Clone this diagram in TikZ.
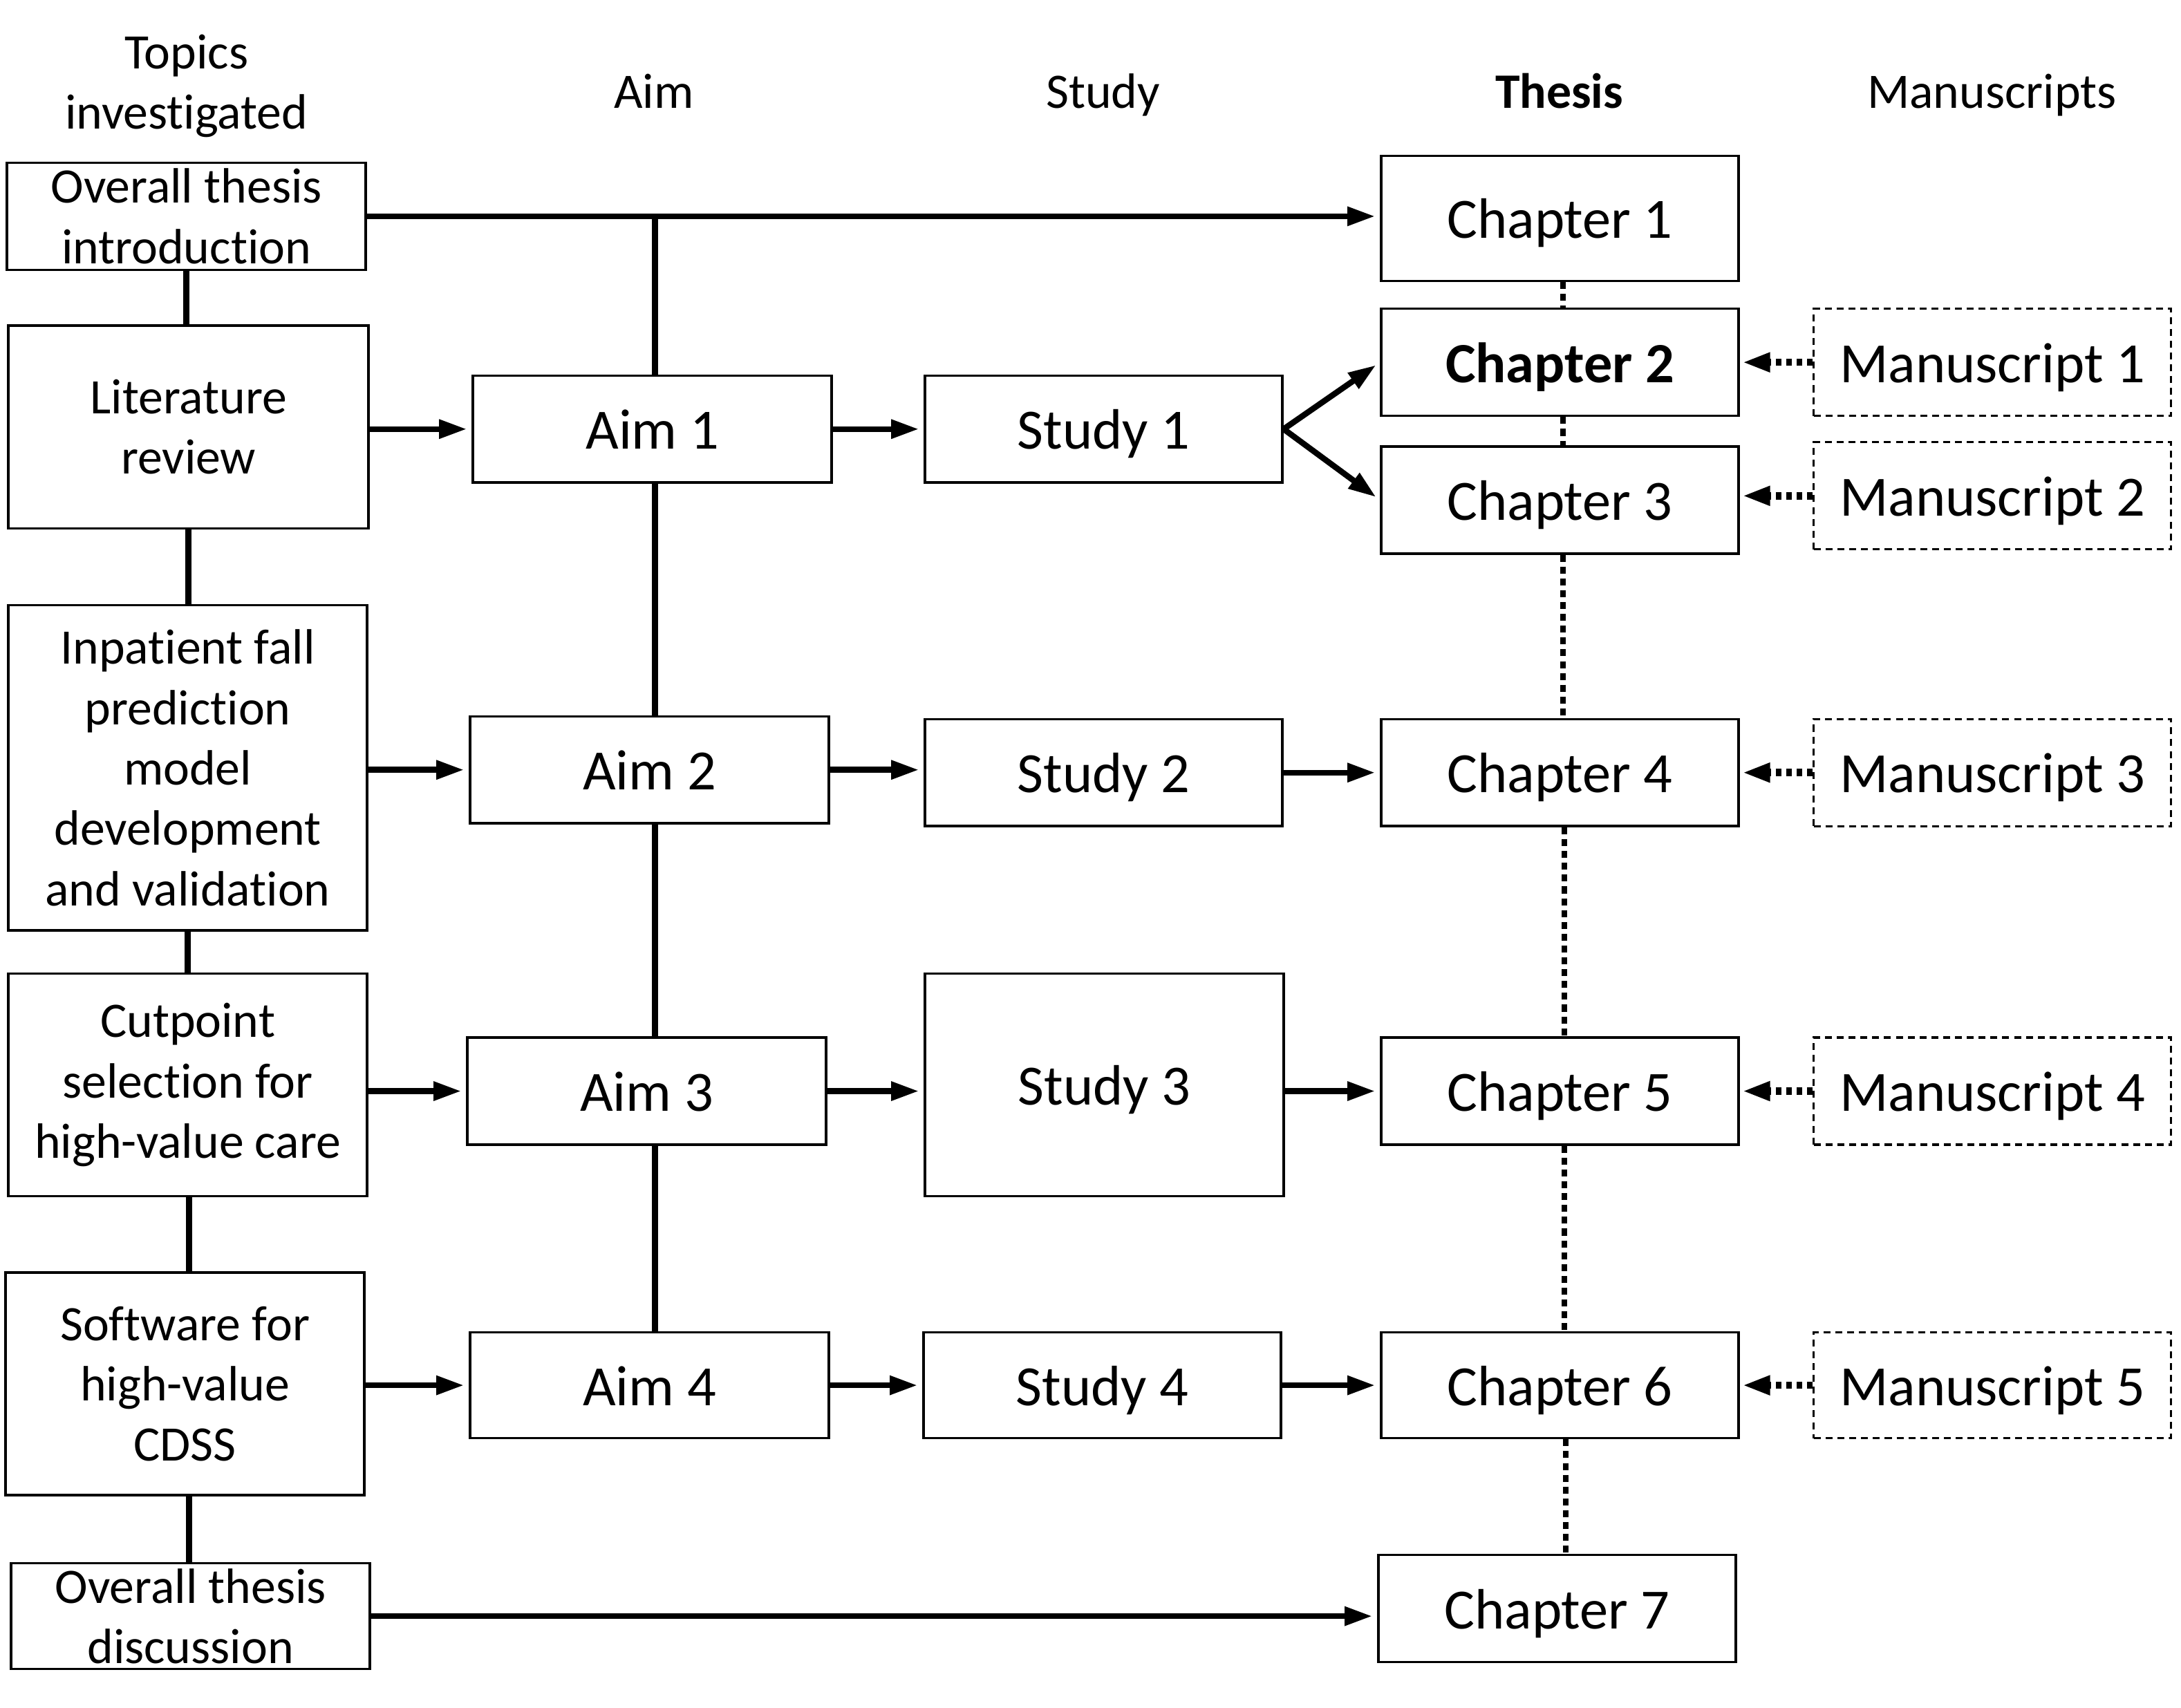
\documentclass[tikz,border=0pt]{standalone}
\usepackage{fontspec}
\setmainfont{Carlito}[Ligatures=NoCommon]
\usetikzlibrary{arrows.meta,calc}
\begin{document}
\begin{tikzpicture}[x=0.02cm,y=-0.02cm,
  box/.style={draw, line width=1pt, inner sep=0pt, align=center, minimum width=5.16cm, minimum height=1.54cm, font=\fontsize{23.3}{28}\selectfont, text height=16.4pt, text depth=0pt},
  topic/.style={draw, line width=1pt, inner sep=0pt, align=center, minimum width=5.16cm, minimum height=1.54cm, font=\fontsize{20.3}{24.7}\selectfont},
  msbox/.style={box, dash pattern=on 0.1cm off 0.07cm, line width=0.9pt},
  hdr/.style={inner sep=0pt, align=center, font=\fontsize{20.3}{24.7}\selectfont},
  hdr1/.style={hdr, text height=13.5pt, text depth=0pt},
  arr/.style={line width=2.4pt, -{Triangle[length=0.4cm,width=0.26cm]}, shorten >=2pt},
  link/.style={line width=2.4pt},
  chain/.style={line width=2.2pt, dash pattern=on 0.1cm off 0.07cm},
  dotarr/.style={line width=3pt, dash pattern=on 0.08cm off 0.07cm, -{Triangle[length=0.4cm,width=0.26cm]}, shorten >=1pt}
]
\useasboundingbox (0,0) rectangle (1568,1228);

% headers
\node[hdr] (h1) at (134,62) {Topics\\investigated};
\node[hdr1] (h2) at (470,66) {Aim};
\node[hdr1] (h3) at (793,66) {Study};
\node[hdr1] (h4) at (1121,66) {\textbf{Thesis}};
\node[hdr1] (h5) at (1432,66) {Manuscripts};

% topics
\node[topic] (T0) at (134,155.5) {Overall thesis\\introduction};
\node[topic, minimum width=5.18cm, minimum height=2.92cm] (T1) at (135.5,307) {Literature\\review};
\node[topic, minimum height=4.68cm] (T2) at (135,552) {Inpatient fall\\prediction\\model\\development\\and validation};
\node[topic, minimum height=3.2cm] (T3) at (135,780) {Cutpoint\\selection for\\high-value care};
\node[topic, minimum height=3.2cm] (T4) at (133,995) {Software for\\high-value\\CDSS};
\node[topic, minimum height=1.52cm] (T5) at (137,1162) {Overall thesis\\discussion};

% aims
\node[box] (A1) at (469,308.5) {Aim 1};
\node[box] (A2) at (467,553.5) {Aim 2};
\node[box] (A3) at (465,784.5) {Aim 3};
\node[box, minimum height=1.52cm] (A4) at (467,996) {Aim 4};

% studies
\node[box, minimum width=5.14cm] (S1) at (793.5,308.5) {Study 1};
\node[box, minimum width=5.14cm] (S2) at (793.5,555.5) {Study 2};
\node[box, minimum height=3.2cm] (S3) at (794,780) {Study 3};
\node[box, minimum width=5.14cm, minimum height=1.52cm] (S4) at (792.5,996) {Study 4};

% chapters
\node[box, minimum width=5.14cm, minimum height=1.8cm] (C1) at (1121.5,157) {Chapter 1};
\node[box, minimum width=5.14cm] (C2) at (1121.5,260.5) {\textbf{Chapter 2}};
\node[box, minimum width=5.14cm] (C3) at (1121.5,359.5) {Chapter 3};
\node[box, minimum width=5.14cm] (C4) at (1121.5,555.5) {Chapter 4};
\node[box, minimum width=5.14cm] (C5) at (1121.5,784.5) {Chapter 5};
\node[box, minimum width=5.14cm, minimum height=1.52cm] (C6) at (1121.5,996) {Chapter 6};
\node[box, minimum width=5.14cm] (C7) at (1119.5,1156.5) {Chapter 7};

% manuscripts
\node[msbox, minimum width=5.14cm] (M1) at (1432.5,260.5) {Manuscript 1};
\node[msbox, minimum width=5.14cm] (M2) at (1432.5,356.5) {Manuscript 2};
\node[msbox, minimum width=5.14cm] (M3) at (1432.5,555.5) {Manuscript 3};
\node[msbox, minimum width=5.14cm] (M4) at (1432.5,784.5) {Manuscript 4};
\node[msbox, minimum width=5.14cm, minimum height=1.52cm] (M5) at (1432.5,996) {Manuscript 5};

% topic chain
\draw[link] (T0.south) -- (T0.south |- T1.north);
\draw[link] (T1.south) -- (T1.south |- T2.north);
\draw[link] (T2.south) -- (T2.south |- T3.north);
\draw[link] ($(T3.south)+(1,0)$) -- ($(T3.south |- T4.north)+(1,0)$);
\draw[link] ($(T4.south)+(3,0)$) -- ($(T4.south |- T5.north)+(3,0)$);

% aim chain
\coordinate (J) at ($(A1.north |- T0.east)+(2,0)$);
\draw[arr] (T0.east) -- (T0.east -| C1.west);
\draw[link] (J) -- (J |- A1.north);
\draw[link] ($(A1.south)+(2,0)$) -- ($(A1.south |- A2.north)+(2,0)$);
\draw[link] ($(A2.south)+(4,0)$) -- ($(A2.south |- A3.north)+(4,0)$);
\draw[link] ($(A3.south)+(6,0)$) -- ($(A3.south |- A4.north)+(6,0)$);

% topic -> aim
\draw[arr] (T1.east |- A1.west) -- (A1.west);
\draw[arr] (T2.east |- A2.west) -- (A2.west);
\draw[arr] (T3.east |- A3.west) -- (A3.west);
\draw[arr] (T4.east |- A4.west) -- (A4.west);

% aim -> study
\draw[arr] (A1.east) -- (A1.east -| S1.west);
\draw[arr] (A2.east) -- (A2.east -| S2.west);
\draw[arr] (A3.east) -- (A3.east -| S3.west);
\draw[arr] (A4.east) -- (A4.east -| S4.west);

% study -> chapter
\draw[arr] (S1.east) -- (C2.west);
\draw[arr] (S1.east) -- (C3.west);
\draw[arr] (S2.east) -- (S2.east -| C4.west);
\draw[arr] (S3.east |- C5.west) -- (C5.west);
\draw[arr] (S4.east) -- (S4.east -| C6.west);
\draw[arr] (T5.east) -- (T5.east -| C7.west);

% chapter chain
\draw[chain] ($(C1.south)+(2,0)$) -- ($(C2.north)+(2,0)$);
\draw[chain] ($(C2.south)+(2,0)$) -- ($(C3.north)+(2,0)$);
\draw[chain] ($(C3.south)+(2,0)$) -- ($(C4.north)+(2,0)$);
\draw[chain] ($(C4.south)+(3,0)$) -- ($(C5.north)+(3,0)$);
\draw[chain] ($(C5.south)+(3,0)$) -- ($(C6.north)+(3,0)$);
\draw[chain] ($(C6.south)+(4,0)$) -- ($(C6.south |- C7.north)+(4,0)$);

% manuscript -> chapter
\draw[dotarr] (M1.west) -- (C2.east);
\draw[dotarr] (M2.west) -- (M2.west -| C3.east);
\draw[dotarr] (M3.west) -- (C4.east);
\draw[dotarr] (M4.west) -- (C5.east);
\draw[dotarr] (M5.west) -- (C6.east);
\end{tikzpicture}
\end{document}
